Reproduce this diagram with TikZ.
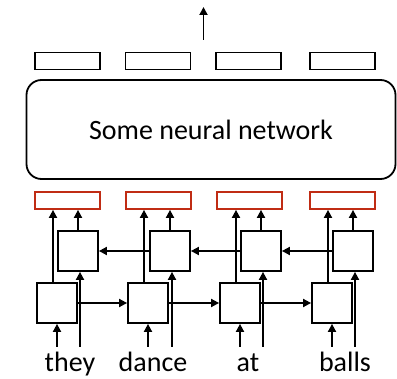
\documentclass[tikz,border=0pt]{standalone}
\usepackage{fontspec}
\setmainfont{Carlito}
\usetikzlibrary{positioning, arrows.meta, calc}
\definecolor{cellred}{RGB}{192,44,20}

\tikzset{
    cell/.style={draw, line width=1.8pt, minimum size=40pt, inner sep=0pt},
    vec/.style={draw, line width=1.8pt, minimum width=65pt, minimum height=17pt, inner sep=0pt},
    hvec/.style={vec, draw=cellred},
    word/.style={anchor=base, font=\fontsize{28}{33}\selectfont},
    flow/.style={-{Triangle[length=8pt,width=8pt]}, line width=1.8pt},
}

\begin{document}
\begin{tikzpicture}[x=1pt, y=-1pt]
            \useasboundingbox (0,0) rectangle (397,379);

            % output vectors
            \node[vec] (o1) at (67.5,61) {};
            \node[vec] (o2) at (158,61) {};
            \node[vec] (o3) at (248.5,61) {};
            \node[vec] (o4) at (342.5,61) {};
            \coordinate (up0) at (203.5,40);
            \coordinate (up1) at (203.5,7);

            \node[draw, line width=1.8pt, rounded corners=15pt, minimum width=369pt,
                  minimum height=99pt, font=\fontsize{28}{33}\selectfont] (nn) at (211,129.5)
                  {Some neural network};

            % concatenated states
            \node[hvec] (h1) at (67.5,200.5) {};
            \node[hvec] (h2) at (158.5,200.5) {};
            \node[hvec] (h3) at (249.5,200.5) {};
            \node[hvec] (h4) at (342.5,200.5) {};

            % backward cells
            \node[cell] (b1) at (78,251) {};
            \node[cell] (b2) at (170,251) {};
            \node[cell] (b3) at (261,251) {};
            \node[cell] (b4) at (353,251) {};

            % forward cells
            \node[cell] (f1) at (57,303) {};
            \node[cell] (f2) at (148,303) {};
            \node[cell] (f3) at (240,303) {};
            \node[cell] (f4) at (332,303) {};

            \node[word] (w1) at (70,372) {they};
            \node[word] (w2) at (153,372) {dance};
            \node[word] (w3) at (248,372) {at};
            \node[word] (w4) at (345,372) {balls};
            \coordinate (base) at (0,347);

            \draw[flow] (up0) -- (up1);

            \path[flow]
            (f1) edge (f2)
            (f2) edge (f3)
            (f3) edge (f4)
            (b4) edge (b3)
            (b3) edge (b2)
            (b2) edge (b1)
            ;

            \draw[flow] (f1.south |- base) -- (f1.south);
            \draw[flow] (f2.south |- base) -- (f2.south);
            \draw[flow] (f3.south |- base) -- (f3.south);
            \draw[flow] (f4.south |- base) -- (f4.south);

            \draw[flow] ([xshift=2pt]b1.south |- base) -- ([xshift=2pt]b1.south);
            \draw[flow] ([xshift=2pt]b2.south |- base) -- ([xshift=2pt]b2.south);
            \draw[flow] ([xshift=2pt]b3.south |- base) -- ([xshift=2pt]b3.south);
            \draw[flow] ([xshift=2pt]b4.south |- base) -- ([xshift=2pt]b4.south);

            \draw[flow] ([xshift=-4pt]f1.north) -- ([xshift=-4pt]f1.north |- h1.south);
            \draw[flow] ([xshift=-4pt]f2.north) -- ([xshift=-4pt]f2.north |- h2.south);
            \draw[flow] ([xshift=-4pt]f3.north) -- ([xshift=-4pt]f3.north |- h3.south);
            \draw[flow] ([xshift=-4pt]f4.north) -- ([xshift=-4pt]f4.north |- h4.south);

            \draw[flow] (b1.north) -- (b1.north |- h1.south);
            \draw[flow] (b2.north) -- (b2.north |- h2.south);
            \draw[flow] (b3.north) -- (b3.north |- h3.south);
            \draw[flow] (b4.north) -- (b4.north |- h4.south);
        \end{tikzpicture}
\end{document}
